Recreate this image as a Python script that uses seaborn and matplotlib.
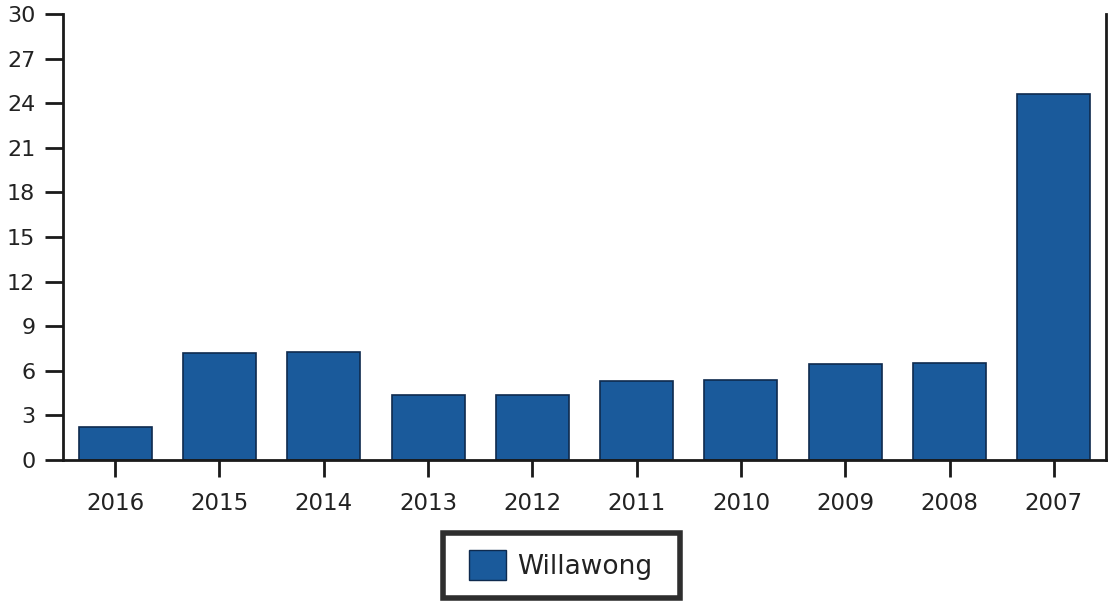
import matplotlib
matplotlib.use("Agg")
import matplotlib.pyplot as plt
import seaborn as sns
import pandas as pd
from matplotlib.patches import Patch, Rectangle

years = ["2016", "2015", "2014", "2013", "2012", "2011", "2010", "2009", "2008", "2007"]
values = [2.2, 7.2, 7.25, 4.35, 4.4, 5.3, 5.35, 6.45, 6.5, 24.6]
series_name = "Willawong"
y_ticks = [0, 3, 6, 9, 12, 15, 18, 21, 24, 27, 30]

sns.set_theme(style="white")
plt.rcParams['font.family'] = ['DejaVu Sans']

df = pd.DataFrame({"year": years, "value": values, "series": series_name})

fig = plt.figure(figsize=(11.1, 6.01), dpi=100)
ax = fig.add_axes([0.0568, 0.2346, 0.9396, 0.7421])

bar_color = "#1a5a9b"
sns.barplot(data=df, x="year", y="value", hue="series", palette=[bar_color],
            width=0.7, edgecolor="#0e2a4e", linewidth=1.2, ax=ax, legend=False,
            saturation=1)

ax.set_xlim(-0.5, 9.5)
ax.set_ylim(0, 30)
ax.set_yticks(y_ticks)
ax.set_xlabel("")
ax.set_ylabel("")

for side in ["left", "bottom", "right"]:
    ax.spines[side].set_visible(True)
    ax.spines[side].set_color("#1a1a1a")
    ax.spines[side].set_linewidth(2)
ax.spines["top"].set_visible(False)

ax.tick_params(axis="y", which="both", direction="out", length=13, width=2,
               color="#1a1a1a", labelsize=16, labelcolor="#222222", pad=7, left=True)
ax.tick_params(axis="x", which="both", direction="out", length=12, width=2,
               color="#1a1a1a", labelsize=16.5, labelcolor="#222222", pad=11, bottom=True)
ax.tick_params(axis="y", right=False)

handle = Patch(facecolor=bar_color, edgecolor="#0e2a4e", label=series_name)
leg = fig.legend(handles=[handle], loc="center", bbox_to_anchor=(0.505, 0.06),
                 frameon=False, fontsize=19, handlelength=1.4,
                 handleheight=1.4, handletextpad=0.4, borderpad=0.3,
                 borderaxespad=0)
for t in leg.get_texts():
    t.set_color("#222222")

frame = Rectangle((443 / 1110, 3 / 601), 237 / 1110, 65 / 601,
                  transform=fig.transFigure, fill=False,
                  edgecolor="#2e2e2e", linewidth=4, zorder=5)
fig.patches.append(frame)

fig.savefig("out.png", dpi=100, facecolor="white")
